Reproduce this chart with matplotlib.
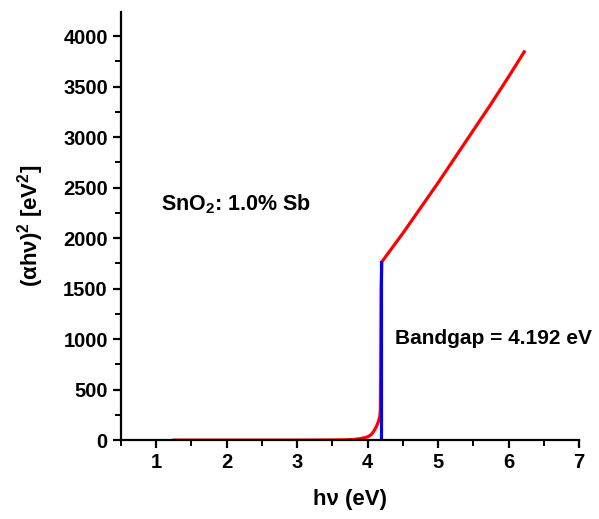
import numpy as np
import matplotlib.pyplot as plt
from matplotlib.ticker import MultipleLocator

plt.rcParams['font.family'] = ['Liberation Sans', 'DejaVu Sans']
plt.rcParams['font.weight'] = 'bold'
plt.rcParams['mathtext.fontset'] = 'custom'
plt.rcParams['mathtext.rm'] = 'Liberation Sans:bold'
plt.rcParams['mathtext.bf'] = 'Liberation Sans:bold'

# -------------------------------
# Data
# -------------------------------
hv = [1.25, 1.5, 2.0, 2.5, 3.0, 3.5, 3.7, 3.8, 3.9, 4.0, 4.05, 4.08, 4.12,
      4.15, 4.17, 4.18, 4.185, 4.19, 4.2, 4.5, 4.75, 5.0, 5.25, 5.5,
      5.75, 6.0, 6.22]
ahv2 = [0, 0, 0, 0, 0, 1, 3, 6, 15, 32, 55, 82, 130,
        180, 230, 300, 800, 1500, 1765, 2050, 2300, 2550, 2810, 3070,
        3330, 3600, 3845]

bandgap = 4.192
fit_top = 1765

# -------------------------------
# Plot
# -------------------------------
fig = plt.figure(figsize=(5.99, 5.19), dpi=100)
ax = fig.add_axes([0.202, 0.152, 0.765, 0.825])

ax.plot(hv, ahv2, color='#ff0000', lw=2.3, solid_joinstyle='round')
ax.plot([bandgap, bandgap], [0, fit_top], color='#0000ff', lw=2.3)

ax.set_xlim(0.5, 7)
ax.set_ylim(0, 4240)
ax.xaxis.set_major_locator(MultipleLocator(1))
ax.xaxis.set_minor_locator(MultipleLocator(0.5))
ax.yaxis.set_major_locator(MultipleLocator(500))
ax.yaxis.set_minor_locator(MultipleLocator(250))

for s in ['top', 'right']:
    ax.spines[s].set_visible(False)
for s in ['left', 'bottom']:
    ax.spines[s].set_linewidth(1.6)

ax.tick_params(which='major', direction='out', length=6, width=1.6, labelsize=14.5)
ax.tick_params(which='minor', direction='out', length=4, width=1.4)
for lab in ax.get_xticklabels() + ax.get_yticklabels():
    lab.set_fontweight('bold')

ax.set_xlabel('h\u03bd (eV)', fontsize=16, fontweight='bold', labelpad=12)
ax.set_ylabel('(\u03b1h\u03bd)$^2$ [eV$^2$]', fontsize=16, fontweight='bold', labelpad=12)

ax.text(1.07, 2337, 'SnO$_2$: 1.0% Sb', fontsize=15.5, fontweight='bold', va='center')
ax.text(4.39, 1010, 'Bandgap = 4.192 eV', fontsize=15, fontweight='bold', va='center')

fig.savefig('out.png', dpi=100)
